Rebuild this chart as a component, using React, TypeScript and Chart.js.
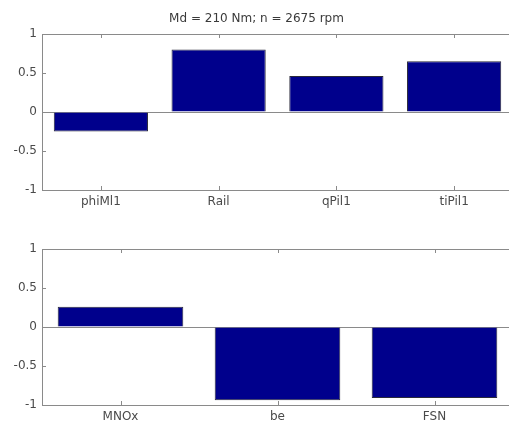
import React, { useEffect, useRef } from "react";
import { Chart, registerables } from "chart.js";

Chart.register(...registerables);

const TITLE = "Md = 210 Nm; n = 2675 rpm";
const topCategories = ["phiMl1", "Rail", "qPil1", "tiPil1"];
const topValues = [-0.25, 0.8, 0.46, 0.65];
const bottomCategories = ["MNOx", "be", "FSN"];
const bottomValues = [0.26, -0.94, -0.91];
const yMin = -1;
const yMax = 1;
const yStep = 0.5;

const FONT = "DejaVu Sans";
const TEXT = "#4a4a4a";
const AXIS = "#8a8a8a";
const BAR = "#00008c";

const CANVAS_W = 530;
const PLOT_LEFT = 42;
const PLOT_RIGHT = 513;
const PLOT_TOP = 34;
const PLOT_BOTTOM = 190;

const boxPlugin = {
  id: "matlabBox",
  afterDatasetsDraw(chart: any) {
    const { ctx, chartArea } = chart;
    const { left, right, top, bottom } = chartArea;
    const xs = chart.scales.x;
    const ys = chart.scales.y;
    const tl = 4;
    ctx.save();
    ctx.strokeStyle = AXIS;
    ctx.lineWidth = 1;
    ctx.beginPath();
    ctx.moveTo(left + 0.5, top + 0.5);
    ctx.lineTo(right + 0.5, top + 0.5);
    ctx.lineTo(right + 0.5, bottom + 0.5);
    ctx.moveTo(left + 0.5, top + 0.5);
    ctx.lineTo(left + 0.5, bottom + 0.5);
    ctx.lineTo(right + 0.5, bottom + 0.5);
    xs.ticks.forEach((_t: any, i: number) => {
      const px = Math.round(xs.getPixelForTick(i)) + 0.5;
      ctx.moveTo(px, bottom);
      ctx.lineTo(px, bottom - tl);
      ctx.moveTo(px, top);
      ctx.lineTo(px, top + tl);
    });
    ys.ticks.forEach((t: any) => {
      const py = Math.round(ys.getPixelForValue(t.value)) + 0.5;
      ctx.moveTo(left, py);
      ctx.lineTo(left + tl, py);
      ctx.moveTo(right, py);
      ctx.lineTo(right - tl, py);
    });
    ctx.stroke();
    ctx.restore();
  },
};

function makeConfig(labels: string[], values: number[], height: number, withTitle: boolean): any {
  return {
    type: "bar",
    data: {
      labels,
      datasets: [
        {
          data: values,
          backgroundColor: BAR,
          borderColor: "#2a2a3a",
          borderWidth: 1,
          barPercentage: 0.8,
          categoryPercentage: 1,
        },
      ],
    },
    options: {
      responsive: false,
      animation: false,
      devicePixelRatio: 1,
      layout: {
        padding: { left: 0, right: CANVAS_W - PLOT_RIGHT, top: withTitle ? 0 : PLOT_TOP, bottom: 0 },
      },
      plugins: {
        legend: { display: false },
        tooltip: { enabled: false },
        title: {
          display: withTitle,
          text: TITLE,
          color: "#3a3a3a",
          font: { family: FONT, size: 12, weight: "normal", lineHeight: 1.2 },
          padding: { top: 12, bottom: PLOT_TOP - 12 - 14.4 },
        },
      },
      scales: {
        x: {
          grid: { display: false, drawTicks: false },
          border: { display: true, color: AXIS, width: 1 },
          ticks: {
            color: TEXT,
            padding: 5,
            maxRotation: 0,
            autoSkip: false,
            font: { family: FONT, size: 12 },
          },
          afterFit: (scale: any) => {
            scale.height = height - PLOT_BOTTOM;
          },
        },
        y: {
          min: yMin,
          max: yMax,
          grid: {
            display: true,
            drawTicks: false,
            color: (c: any) => (c.tick && c.tick.value === 0 ? AXIS : "rgba(0,0,0,0)"),
          },
          border: { display: true, color: AXIS, width: 1 },
          ticks: {
            stepSize: yStep,
            color: TEXT,
            padding: 5,
            font: { family: FONT, size: 12 },
            callback: (v: any) => String(Math.round(Number(v) * 10) / 10),
          },
          afterFit: (scale: any) => {
            scale.width = PLOT_LEFT;
          },
        },
      },
    },
    plugins: [boxPlugin],
  };
}

function BarPanel(props: { labels: string[]; values: number[]; height: number; top: number; withTitle: boolean }) {
  const ref = useRef<HTMLCanvasElement | null>(null);
  useEffect(() => {
    if (!ref.current) return;
    const chart = new Chart(ref.current, makeConfig(props.labels, props.values, props.height, props.withTitle));
    return () => chart.destroy();
  }, []);
  return (
    <canvas
      ref={ref}
      width={CANVAS_W}
      height={props.height}
      style={{ position: "absolute", left: 0, top: props.top, width: CANVAS_W, height: props.height }}
    />
  );
}

export default function App() {
  return (
    <div
      style={{
        position: "fixed",
        left: 0,
        top: 0,
        width: 509,
        height: 427,
        overflow: "hidden",
        background: "#ffffff",
      }}
    >
      <BarPanel labels={topCategories} values={topValues} height={215} top={0} withTitle={true} />
      <BarPanel labels={bottomCategories} values={bottomValues} height={212} top={215} withTitle={false} />
    </div>
  );
}
